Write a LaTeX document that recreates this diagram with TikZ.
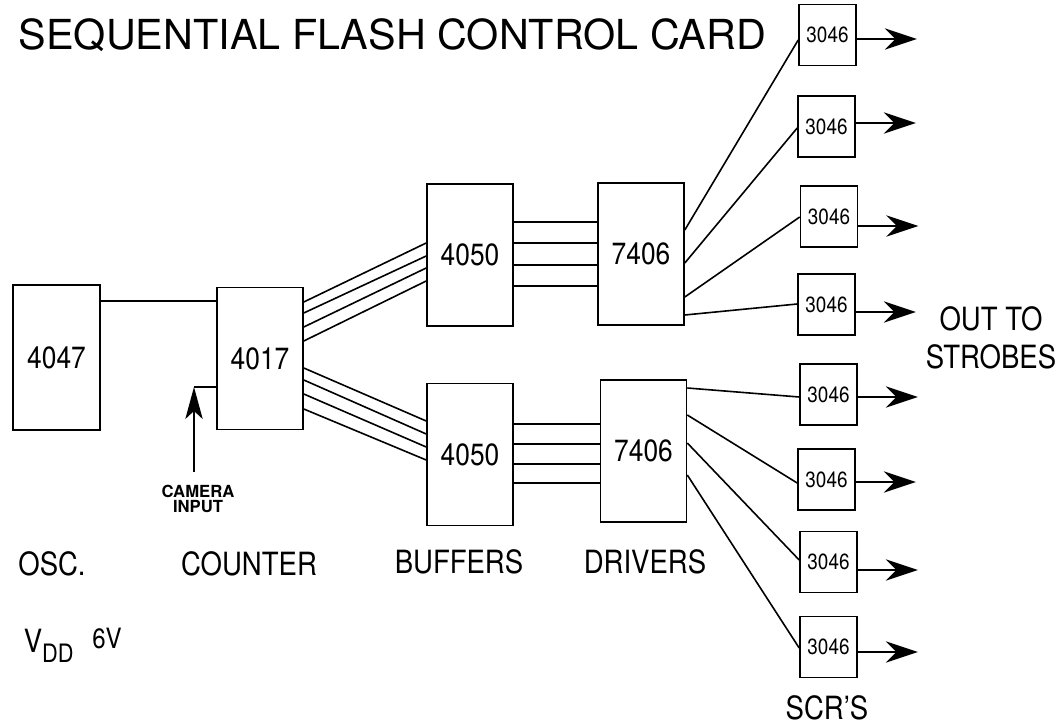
\documentclass[tikz,border=0pt]{standalone}
\usepackage{fontspec}
\setmainfont{TeX Gyre Heros}[FakeStretch=0.86]
\newfontfamily\plainfont{TeX Gyre Heros}
\usetikzlibrary{arrows.meta}

\tikzset{every picture/.style={line width=1.2pt}}
\tikzset{
	chip/.style={draw, inner sep=0pt, minimum width=64.5pt, minimum height=106.5pt, font=\fontsize{23}{27}\selectfont},
	scr/.style={draw, inner sep=0pt, minimum width=42.75pt, minimum height=45.75pt, font=\fontsize{16.5}{19}\selectfont},
	lbl/.style={inner sep=0.75pt, font=\fontsize{24}{28.5}\selectfont},
	outarrow/.style={-{Stealth[length=24pt, width=16pt, inset=8pt]}},
	camarrow/.style={-{Stealth[length=24pt, width=13pt, inset=6pt]}}
}

\begin{document}
\begin{tikzpicture}[x=0.75pt,y=0.75pt,yscale=-1,xscale=1]
	\path[use as bounding box] (0,0) rectangle (1060,727);
	
	% Text Node
	\node[anchor=base west, inner sep=0pt, font=\plainfont\fontsize{31}{36}\selectfont] (title) at (18,50) {SEQUENTIAL FLASH CONTROL CARD};
	
	%Chips
	\node[chip, minimum width=65.25pt, minimum height=108.75pt] (osc) at (56.5,357.5) {4047};
	\node[chip] (cnt) at (260,358.5) {4017};
	\node[chip] (bufA) at (470,255) {4050};
	\node[chip] (bufB) at (470,454.5) {4050};
	\node[chip] (drvA) at (641,254) {7406};
	\node[chip] (drvB) at (643.5,451) {7406};
	
	%SCR boxes
	\foreach \i/\x/\y in {1/827.5/35, 2/826.5/126.5, 3/829/216.5, 4/826.5/304.5, 5/828.5/394.5, 6/826.5/479.5, 7/828.5/562, 8/828.5/647}
		\node[scr] (s\i) at (\x,\y) {3046};
	
	%Straight Lines
	\draw (osc.east |- 0,301) -- (cnt.west |- 0,301);
	\foreach \a/\b in {302/243, 313/256, 327/268, 341/281}
		\draw (cnt.east |- 0,\a) -- (bufA.west |- 0,\b);
	\foreach \a/\b in {368/421, 380/434, 394/447, 409/460}
		\draw (cnt.east |- 0,\a) -- (bufB.west |- 0,\b);
	\foreach \y in {222,243,265,286}
		\draw (bufA.east |- 0,\y) -- (drvA.west |- 0,\y);
	\foreach \y in {424,444,464,483}
		\draw (bufB.east |- 0,\y) -- (drvB.west |- 0,\y);
	\foreach \a/\i/\b in {230/1/40, 263/2/128, 297/3/217, 315/4/304}
		\draw (drvA.east |- 0,\a) -- (s\i.west |- 0,\b);
	\foreach \a/\i/\b in {388/5/397, 415/6/483, 443/7/560, 475/8/648}
		\draw (drvB.east |- 0,\a) -- (s\i.west |- 0,\b);
	
	%Arrows out
	\foreach \i/\y in {1/39, 2/123, 3/226, 4/312, 5/397, 6/482, 7/570, 8/652}
		\draw[outarrow] (s\i.east |- 0,\y) -- ++(60,0);
	
	%Camera input
	\coordinate (cam) at (194,472);
	\draw (cam |- 0,387) -- (cnt.west |- 0,387);
	\draw[camarrow] (cam) -- (cam |- 0,387);
	\node[inner sep=0pt, align=center, font=\plainfont\bfseries\fontsize{12.5}{11.5}\selectfont] (caml) at (198,499) {CAMERA\\INPUT};
	
	% Text Node
	\node[lbl] (oscl) at (52,564) {OSC.};
	% Text Node
	\node[lbl] (cntl) at (249,564) {COUNTER};
	% Text Node
	\node[lbl] (bufl) at (459,562) {BUFFERS};
	% Text Node
	\node[lbl] (drvl) at (645,562) {DRIVERS};
	% Text Node
	\node[lbl] (scrl) at (827,708) {SCR'S};
	% Text Node
	\node[lbl, align=center] (outl) at (991,338) {OUT TO\\STROBES};
	% Text Node
	\node[lbl, anchor=base west] (vdd) at (22,652) {V\raisebox{-8pt}{\fontsize{19}{21}\selectfont DD}\hspace{14pt}\raisebox{3pt}{\fontsize{21}{24}\selectfont 6V}};
	
\end{tikzpicture}
\end{document}
